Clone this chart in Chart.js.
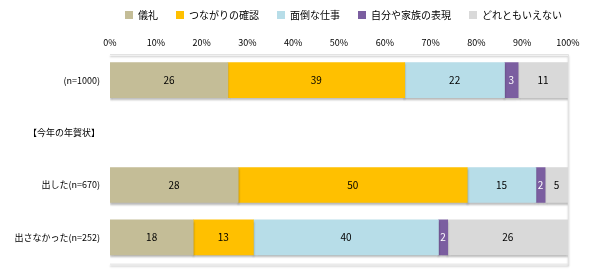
<!DOCTYPE html>
<html>
<head>
<meta charset="utf-8">
<script src="https://cdn.jsdelivr.net/npm/chart.js@4/dist/chart.umd.min.js"></script>
<style>
  html, body { margin: 0; padding: 0; background: #fff; }
  #wrap { width: 594px; height: 279px; position: relative; }
</style>
</head>
<body>
<div id="wrap"><canvas id="chart" width="594" height="279"></canvas></div>
<script>
// rows (top to bottom); the second row is only a section heading
const categories = ["(n=1000)", "【今年の年賀状】", "出した(n=670)", "出さなかった(n=252)"];
const seriesNames = ["儀礼", "つながりの確認", "面倒な仕事", "自分や家族の表現", "どれともいえない"];

// displayed percentages for each answer, per row
const girei = [26, null, 28, 18];
const tsunagari = [39, null, 50, 13];
const mendou = [22, null, 15, 40];
const hyougen = [3, null, 2, 2];
const dochiramo = [11, null, 5, 26];

const xTicks = [0, 10, 20, 30, 40, 50, 60, 70, 80, 90, 100];

const colors = ["#C4BD97", "#FFC000", "#B7DDE8", "#7B5EA0", "#D9D9D9"];
const labelColors = ["#000", "#000", "#000", "#fff", "#000"];

const allSeries = [girei, tsunagari, mendou, hyougen, dochiramo];

// 100% stacked: each row is scaled to its own total, like the spreadsheet does
const rowTotals = categories.map((c, i) =>
  allSeries.reduce((sum, s) => sum + (s[i] || 0), 0));

const datasets = allSeries.map((values, k) => ({
  label: seriesNames[k],
  data: values.map((v, i) => v == null ? null : v / rowTotals[i] * 100),
  raw: values,
  backgroundColor: colors[k],
  borderWidth: 0,
  barThickness: 35
}));

const valueLabels = {
  id: "valueLabels",
  afterDatasetsDraw(chart) {
    const ctx = chart.ctx;
    ctx.save();
    ctx.font = "10px 'Noto Sans CJK JP', sans-serif";
    ctx.textAlign = "center";
    ctx.textBaseline = "middle";
    chart.data.datasets.forEach((ds, k) => {
      chart.getDatasetMeta(k).data.forEach((bar, i) => {
        if (ds.raw[i] == null) return;
        const cx = (bar.x + bar.base) / 2;
        ctx.fillStyle = labelColors[k];
        ctx.fillText(String(ds.raw[i]), cx, bar.y);
      });
    });
    ctx.restore();
  }
};

const barShadow = {
  id: "barShadow",
  beforeDatasetsDraw(chart) {
    const ctx = chart.ctx;
    ctx.save();
    ctx.shadowColor = "rgba(0,0,0,0.28)";
    ctx.shadowOffsetY = 2;
    ctx.shadowOffsetX = 0;
    ctx.shadowBlur = 2;
  },
  afterDatasetsDraw(chart) {
    chart.ctx.restore();
  }
};

const areaBorder = {
  id: "areaBorder",
  beforeDatasetsDraw(chart) {
    const a = chart.chartArea;
    const ctx = chart.ctx;
    ctx.save();
    ctx.strokeStyle = "#E3E3E3";
    ctx.lineWidth = 1;
    ctx.beginPath();
    ctx.moveTo(a.left, a.top + 0.5);
    ctx.lineTo(a.right + 0.5, a.top + 0.5);
    ctx.lineTo(a.right + 0.5, a.bottom + 0.5);
    ctx.lineTo(a.left, a.bottom + 0.5);
    ctx.stroke();
    ctx.restore();
  }
};

// nudge the legend a little to the right, as in the original
const legendShift = {
  id: "legendShift",
  afterLayout(chart) {
    chart.legend.left += 12;
    chart.legend.right += 12;
  }
};

new Chart(document.getElementById("chart"), {
  type: "bar",
  data: { labels: categories, datasets: datasets },
  options: {
    indexAxis: "y",
    responsive: false,
    animation: false,
    layout: { padding: { left: 0, right: 26, top: -8, bottom: 14 } },
    plugins: {
      legend: {
        position: "top",
        align: "end",
        labels: {
          boxWidth: 8,
          boxHeight: 8,
          padding: 18,
          color: "#000",
          font: { size: 10, family: "'Noto Sans CJK JP', sans-serif" }
        }
      },
      tooltip: { enabled: false }
    },
    scales: {
      x: {
        position: "top",
        stacked: true,
        min: 0,
        max: 100,
        afterBuildTicks: scale => { scale.ticks = xTicks.map(v => ({ value: v })); },
        afterFit: scale => { scale.height = 24; },
        ticks: {
          callback: v => v + "%",
          color: "#000",
          padding: 6,
          font: { size: 9, family: "'Noto Sans CJK JP', sans-serif" },
          maxRotation: 0
        },
        grid: { display: false, drawTicks: false },
        border: { display: false }
      },
      y: {
        stacked: true,
        afterFit: scale => { scale.width = 110; },
        ticks: {
          color: "#000",
          padding: 10,
          font: { size: 9, family: "'Noto Sans CJK JP', sans-serif" }
        },
        grid: { display: false, drawTicks: false },
        border: { display: false }
      }
    }
  },
  plugins: [barShadow, valueLabels, areaBorder, legendShift]
});
</script>
</body>
</html>
